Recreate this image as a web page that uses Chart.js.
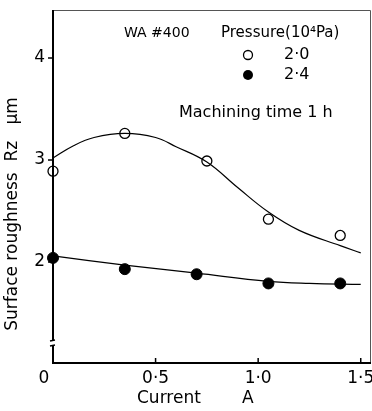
<!DOCTYPE html>
<html>
<head>
<meta charset="utf-8">
<script src="https://cdn.jsdelivr.net/npm/chart.js@4"></script>
<style>
  html, body { margin: 0; padding: 0; background: #fff; overflow: hidden; }
  canvas { display: block; }
</style>
</head>
<body>
<canvas id="myChart" width="372" height="411"></canvas>
<script>
// measured points
const currentOpen = [0.0, 0.35, 0.75, 1.05, 1.40];
const roughOpen = [2.89, 3.26, 2.99, 2.42, 2.26];
const currentFilled = [0.0, 0.35, 0.70, 1.05, 1.40];
const roughFilled = [2.04, 1.93, 1.88, 1.79, 1.79];

// hand-drawn fit curves
const fitOpenX = [0, 0.1, 0.2, 0.35, 0.5, 0.6, 0.75, 0.9, 1.05, 1.2, 1.4, 1.5];
const fitOpenY = [3.02, 3.14, 3.22, 3.26, 3.22, 3.13, 2.98, 2.73, 2.49, 2.31, 2.16, 2.09];
const fitFilledX = [0, 0.35, 0.7, 1.05, 1.25, 1.5];
const fitFilledY = [2.06, 1.97, 1.89, 1.81, 1.79, 1.78];

const xTicks = [0, 0.5, 1.0, 1.5];
const xTickLabels = ["0", "0·5", "1·0", "1·5"];
const yTicks = [2, 3, 4];
const legendLabels = ["2·0", "2·4"];

const FONT = "DejaVu Sans";

function pts(xs, ys) {
    return xs.map((x, i) => ({x: x, y: ys[i]}));
}

const framePlugin = {
    id: "frame",
    afterDraw(chart) {
        const ctx = chart.ctx;
        const a = chart.chartArea;
        const xs = chart.scales.x;
        const ys = chart.scales.y;
        ctx.save();
        // top and right border
        ctx.strokeStyle = "#555";
        ctx.lineWidth = 1;
        ctx.beginPath();
        ctx.moveTo(a.left, a.top + 0.5);
        ctx.lineTo(a.right - 0.5, a.top + 0.5);
        ctx.lineTo(a.right - 0.5, a.bottom);
        ctx.stroke();
        // left and bottom axes
        ctx.strokeStyle = "#000";
        ctx.lineWidth = 2;
        ctx.beginPath();
        ctx.moveTo(a.left, a.top);
        ctx.lineTo(a.left, a.bottom);
        ctx.lineTo(a.right, a.bottom);
        ctx.stroke();
        // axis break
        ctx.fillStyle = "#fff";
        ctx.fillRect(a.left - 2, a.bottom - 22, 4, 4);
        ctx.lineWidth = 1.5;
        ctx.beginPath();
        ctx.moveTo(a.left - 3, a.bottom - 22);
        ctx.lineTo(a.left + 2, a.bottom - 23);
        ctx.moveTo(a.left - 3, a.bottom - 17);
        ctx.lineTo(a.left + 2, a.bottom - 18);
        ctx.stroke();
        // x ticks pointing in
        ctx.lineWidth = 1.5;
        ctx.beginPath();
        xTicks.forEach(v => {
            const px = xs.getPixelForValue(v);
            if (v > 0) {
                ctx.moveTo(px, a.bottom);
                ctx.lineTo(px, a.bottom - 5);
            }
        });
        // y ticks pointing out
        yTicks.forEach(v => {
            const py = ys.getPixelForValue(v);
            ctx.moveTo(a.left - 5, py);
            ctx.lineTo(a.left, py);
        });
        ctx.stroke();

        // tick labels
        ctx.fillStyle = "#000";
        ctx.font = "17px '" + FONT + "'";
        ctx.textBaseline = "middle";
        ctx.textAlign = "center";
        xTicks.forEach((v, i) => {
            let px = xs.getPixelForValue(v);
            if (v === 0) px -= 9;
            ctx.fillText(xTickLabels[i], px, a.bottom + 16);
        });
        ctx.textAlign = "right";
        yTicks.forEach(v => {
            ctx.fillText(String(v), a.left - 8, ys.getPixelForValue(v));
        });

        // axis titles
        ctx.font = "17px '" + FONT + "'";
        ctx.textAlign = "left";
        ctx.fillText("Current", 137, 399);
        ctx.fillText("A", 242, 399);
        ctx.save();
        ctx.translate(13, 214);
        ctx.rotate(-Math.PI / 2);
        ctx.textAlign = "center";
        ctx.fillText("Surface roughness  Rz   μm", 0, 0);
        ctx.restore();

        // annotations and legend
        ctx.font = "14px '" + FONT + "'";
        ctx.textAlign = "left";
        ctx.fillText("WA #400", 124, 33);
        ctx.font = "15px '" + FONT + "'";
        ctx.fillText("Pressure(10⁴Pa)", 221, 33);
        ctx.font = "16px '" + FONT + "'";
        ctx.fillText("Machining time 1 h", 179, 113);
        ctx.fillText(legendLabels[0], 284, 55);
        ctx.fillText(legendLabels[1], 284, 75);
        ctx.lineWidth = 1.3;
        ctx.beginPath();
        ctx.arc(248, 55, 4.5, 0, Math.PI * 2);
        ctx.fillStyle = "#fff";
        ctx.fill();
        ctx.stroke();
        ctx.beginPath();
        ctx.arc(248, 75, 5, 0, Math.PI * 2);
        ctx.fillStyle = "#000";
        ctx.fill();
        ctx.restore();
    }
};

const chartData = {
    type: "scatter",
    data: {
        datasets: [
            {
                label: "fit 2.0",
                data: pts(fitOpenX, fitOpenY),
                showLine: true,
                borderColor: "#000",
                borderWidth: 1.2,
                pointRadius: 0,
                tension: 0.4,
                fill: false,
            },
            {
                label: "fit 2.4",
                data: pts(fitFilledX, fitFilledY),
                showLine: true,
                borderColor: "#000",
                borderWidth: 1.2,
                pointRadius: 0,
                tension: 0.4,
                fill: false,
            },
            {
                label: "2.0",
                data: pts(currentOpen, roughOpen),
                pointRadius: 5,
                pointBackgroundColor: "#fff",
                pointBorderColor: "#000",
                pointBorderWidth: 1.3,
            },
            {
                label: "2.4",
                data: pts(currentFilled, roughFilled),
                pointRadius: 5.5,
                pointBackgroundColor: "#000",
                pointBorderColor: "#000",
                pointBorderWidth: 1,
            },
        ]
    },
    options: {
        responsive: false,
        animation: false,
        clip: false,
        layout: {
            autoPadding: false,
            padding: {top: 10, right: 1, left: 0, bottom: 0}
        },
        plugins: {
            legend: {display: false},
            tooltip: {enabled: false}
        },
        scales: {
            x: {
                type: "linear",
                min: 0,
                max: 1.55,
                grid: {display: false},
                border: {display: false},
                ticks: {display: false},
                afterFit(scale) { scale.height = 48; }
            },
            y: {
                type: "linear",
                min: 1.01,
                max: 4.47,
                grid: {display: false},
                border: {display: false},
                ticks: {display: false},
                afterFit(scale) { scale.width = 53; }
            }
        }
    },
    plugins: [framePlugin]
};

const ctx = document.getElementById("myChart");
new Chart(ctx, chartData);
</script>
</body>
</html>
